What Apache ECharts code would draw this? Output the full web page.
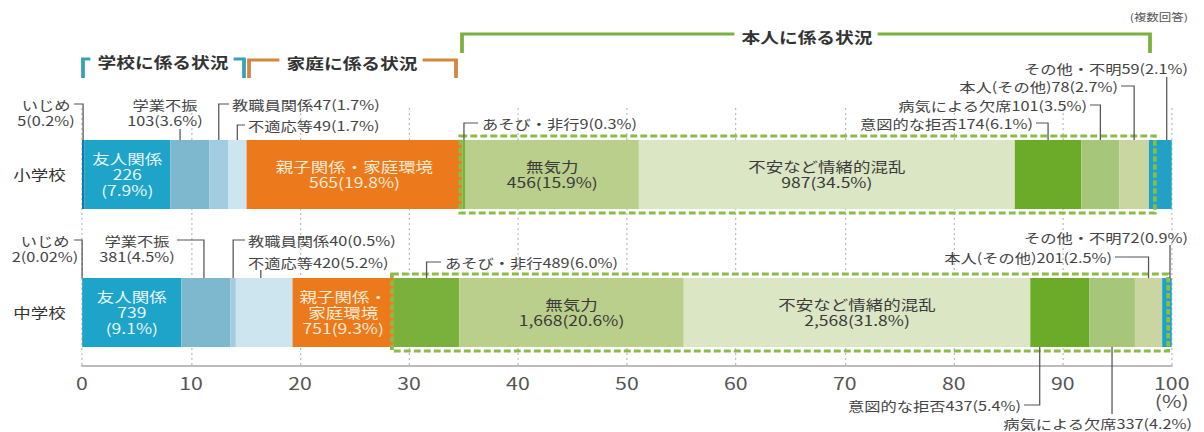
<!DOCTYPE html>
<html lang="ja">
<head>
<meta charset="utf-8">
<title>不登校の要因（小学校・中学校）</title>
<script src="https://cdn.jsdelivr.net/npm/echarts@6/dist/echarts.min.js"></script>
<style>
html, body { margin: 0; padding: 0; background: #fff; overflow: hidden; }
#chart { height: 432px; transform-origin: 0 0; }
</style>
</head>
<body>
<div id="chart"></div>
<script>
// ---- data ----
const schools = ['小学校', '中学校'];
const causes = ['いじめ', '友人関係', '学業不振', '教職員関係', '不適応等', '親子関係・家庭環境',
  'あそび・非行', '無気力', '不安など情緒的混乱', '意図的な拒否', '病気による欠席', '本人(その他)', 'その他・不明'];
const elementaryCounts = [5, 226, 103, 47, 49, 565, 9, 456, 987, 174, 101, 78, 59];
const elementaryPercents = [0.2, 7.9, 3.6, 1.7, 1.7, 19.8, 0.3, 15.9, 34.5, 6.1, 3.5, 2.7, 2.1];
const juniorCounts = [2, 739, 381, 40, 420, 751, 489, 1668, 2568, 437, 337, 201, 72];
const juniorPercents = [0.02, 9.1, 4.5, 0.5, 5.2, 9.3, 6.0, 20.6, 31.8, 5.4, 4.2, 2.5, 0.9];
const xTicks = [0, 10, 20, 30, 40, 50, 60, 70, 80, 90, 100];
const groupTitles = ['学校に係る状況', '家庭に係る状況', '本人に係る状況'];
const answerNote = '(複数回答)';

const counts = [elementaryCounts, juniorCounts];
const percents = [elementaryPercents, juniorPercents];

// ---- styles ----
const colors = ['#1479a6', '#1da4c8', '#7db8ce', '#a2cde0', '#cde5ef', '#ec7a1c',
  '#79b13c', '#b9cf8b', '#dbe6c4', '#6bab29', '#a6c679', '#c9d6a2', '#1fa2c6'];
const FONT = '"Noto Sans CJK JP", "Noto Sans", sans-serif';
const LEADER = '#555';

// The drawing uses a wide type style: it is laid out narrower and stretched horizontally.
const SX = 1.25;
const el = document.getElementById('chart');
el.style.width = (1204 / SX) + 'px';
el.style.transform = 'scaleX(' + SX + ')';
const chart = echarts.init(el, null, { renderer: 'svg' });

const X0 = 82, X1 = 1172;      // screen x of 0 % and 100 %
const BAR_W = 69;

const fmtCount = n => n.toLocaleString('en-US');
const fmtPct = p => (p < 0.1 ? p.toFixed(2) : p.toFixed(1)) + '%';
const valueText = (r, i) => fmtCount(counts[r][i]) + '(' + fmtPct(percents[r][i]) + ')';

// labels written inside the wide segments
function innerLabel(r, i) {
  const name = causes[i];
  if (i === 1) return { text: name + '\n' + fmtCount(counts[r][i]) + '\n(' + fmtPct(percents[r][i]) + ')', color: '#e8f7fb' };
  if (i === 5) {
    const t = r === 0 ? name + '\n' + valueText(r, i) : name.replace('・', '・\n') + '\n' + valueText(r, i);
    return { text: t, color: '#fdebd6' };
  }
  if (i === 7 || i === 8) return { text: name + '\n' + valueText(r, i), color: '#3a3a3a' };
  return null;
}

const series = causes.map((name, i) => ({
  name,
  type: 'bar',
  stack: 'share',
  barWidth: BAR_W,
  xAxisIndex: 0,
  yAxisIndex: 0,
  itemStyle: { color: colors[i] },
  emphasis: { disabled: true },
  data: schools.map((s, r) => {
    const lab = innerLabel(r, i);
    return {
      value: percents[r][i],
      label: lab ? {
        show: true, position: 'inside', formatter: lab.text,
        fontFamily: FONT, fontSize: 14, lineHeight: 16, color: lab.color
      } : { show: false }
    };
  })
}));
// carrier for the scale grid
series.push({ type: 'line', xAxisIndex: 1, yAxisIndex: 1, data: [], silent: true });

const gridSide = { left: X0 / SX, right: (1204 - X1) / SX, outerBoundsMode: 'none', containLabel: false };

chart.setOption({
  animation: false,
  grid: [
    Object.assign({ top: 105.5, height: 276 }, gridSide),
    Object.assign({ top: 108, height: 258 }, gridSide)
  ],
  xAxis: [
    { gridIndex: 0, type: 'value', min: xTicks[0], max: xTicks[xTicks.length - 1], show: false },
    {
      gridIndex: 1, type: 'value',
      min: xTicks[0], max: xTicks[xTicks.length - 1], interval: xTicks[1] - xTicks[0],
      axisLine: { show: true, onZero: false, lineStyle: { color: '#bdbdbd', width: 2 } },
      axisTick: { show: false },
      axisLabel: {
        fontFamily: FONT, fontSize: 17, lineHeight: 18, color: '#555', margin: 8,
        formatter: v => v === xTicks[xTicks.length - 1] ? v + '\n(%)' : String(v)
      },
      splitLine: { show: true, lineStyle: { color: '#bdbdbd', type: [2, 3], width: 1 } }
    }
  ],
  yAxis: [
    {
      gridIndex: 0, type: 'category', data: schools, inverse: true,
      axisLine: { show: false }, axisTick: { show: false },
      axisLabel: { fontFamily: FONT, fontSize: 14, color: '#333', margin: 13 }
    },
    { gridIndex: 1, type: 'value', min: 0, max: 1, show: false }
  ],
  series
});

// ---- annotations: leaders, group brackets, boxes ----
const px = v => chart.convertToPixel({ xAxisIndex: 0 }, v) * SX;   // screen x of a percentage
const rowY = r => chart.convertToPixel({ yAxisIndex: 0 }, schools[r]);
const segStart = (r, i) => percents[r].slice(0, i).reduce((a, b) => a + b, 0);
const anchorX = (r, i, f) => px(segStart(r, i) + percents[r][i] * f);
const X = v => v / SX;

const g = [];
function polyline(points, color, width, extra) {
  g.push(Object.assign({
    type: 'polyline', silent: true, z: 60,
    shape: { points: points.map(p => [X(p[0]), p[1]]) },
    style: { stroke: color, lineWidth: width, fill: 'none' }
  }, extra || {}));
}
function text(str, x, y, align, style) {
  g.push({
    type: 'text', silent: true, z: 61, x: X(x), y,
    style: Object.assign({
      text: str, fill: '#444', font: '13px ' + FONT,
      textAlign: align, textVerticalAlign: 'middle', lineHeight: 16
    }, style || {})
  });
}

// [row, cause, two-line?, textX, textY, align, leaderStartX (null: vertical only), leaderY, position in segment]
const notes = [
  [0, 0, true, 46, 112, 'center', 74, 104, 0.5],
  [0, 2, true, 165, 112, 'center', null, 129, 0.25],
  [0, 3, false, 232, 104, 'left', 229, 104, 0.5],
  [0, 4, false, 248, 125, 'left', 245, 125, 0.5],
  [0, 6, false, 482, 123, 'left', 478, 123, 0.5],
  [0, 9, false, 1033, 123, 'right', 1036, 123, 0.5],
  [0, 10, false, 1087, 105, 'right', 1090, 105, 0.5],
  [0, 11, false, 1118, 86, 'right', 1121, 86, 0.5],
  [0, 12, false, 1188, 68, 'right', null, 77, 0.78],
  [1, 0, true, 45, 248, 'center', 74, 240, 0.5],
  [1, 2, true, 137, 248, 'center', 177, 240, 0.46],
  [1, 3, false, 248, 240, 'left', 245, 240, 0.5],
  [1, 4, false, 248, 262, 'left', null, 270, 0.44],
  [1, 6, false, 445, 262, 'left', 441, 262, 0.5],
  [1, 12, false, 1188, 237, 'right', null, 245, 0.8],
  [1, 11, false, 1112, 257, 'right', 1115, 257, 0.5],
  [1, 9, false, 1021, 405, 'right', 1024, 405, 0.16],
  [1, 10, false, 1192, 423, 'right', null, 414, 0.5]
];

notes.forEach(([r, i, stacked, tx, ty, align, lx, ly, f]) => {
  const label = stacked ? causes[i] + '\n' + valueText(r, i) : causes[i] + valueText(r, i);
  text(label, tx, ty, align);
  const ax = anchorX(r, i, f);
  const yc = rowY(r);
  const edge = ly < yc ? yc - BAR_W / 2 : yc + BAR_W / 2;
  const pts = lx === null ? [[ax, ly], [ax, edge]] : [[lx, ly], [ax, ly], [ax, edge]];
  polyline(pts, LEADER, 1);
});

// dashed frame around the personal factors of each row
schools.forEach((s, r) => {
  const x0 = px(segStart(r, 6)) - 2;
  const x1 = px(segStart(r, 12)) + 6;
  const yc = rowY(r);
  g.push({
    type: 'rect', silent: true, z: 55,
    shape: { x: X(x0), y: yc - BAR_W / 2 - 4, width: X(x1 - x0), height: BAR_W + 8 },
    style: { fill: 'none', stroke: '#8cbb46', lineWidth: 3, lineDash: [5.5, 2.5] }
  });
});

// group brackets above the bars
const brackets = [
  { title: groupTitles[0], color: '#34a2b6', left: 83, right: 244, cx: 163, y: 59, foot: 78 },
  { title: groupTitles[1], color: '#d4853e', left: 249, right: 456, cx: 352, y: 60, foot: 78 },
  { title: groupTitles[2], color: '#7ab03e', left: 462, right: 1150, cx: 807, y: 34, foot: 53 }
];
brackets.forEach(b => {
  const half = b.title.length * 15 * SX / 2;
  polyline([[b.left, b.foot], [b.left, b.y], [b.cx - half - 7, b.y]], b.color, 3);
  polyline([[b.cx + half + 5, b.y], [b.right, b.y], [b.right, b.foot]], b.color, 3);
  text(b.title, b.cx, b.y + 2, 'center', { font: 'bold 15px ' + FONT, fill: '#333' });
});
text(answerNote, 1188, 17, 'right', { font: '10px ' + FONT, fill: '#555' });

chart.setOption({ graphic: g });
</script>
</body>
</html>
